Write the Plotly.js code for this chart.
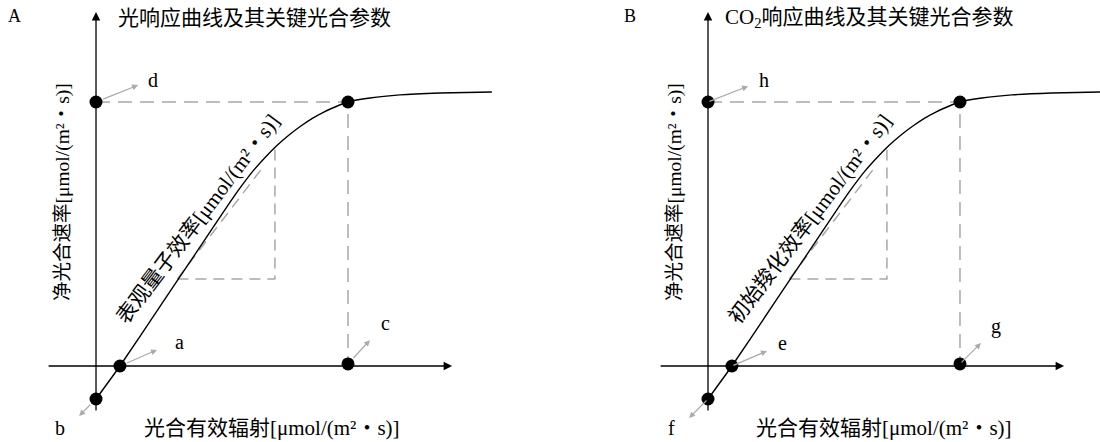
<!DOCTYPE html>
<html><head><meta charset="utf-8">
<script src="https://cdn.plot.ly/plotly-3.0.1.min.js"></script>
<style>html,body{margin:0;padding:0;background:#fff}#chart{width:1100px;height:442px}</style>
</head><body><div id="chart"></div>
<script>
// ---------- text ----------
const panelLetters = ['A', 'B'];
const panelTitles = ['光响应曲线及其关键光合参数', 'CO<sub>2</sub>响应曲线及其关键光合参数'];
const slopeLabels = ['表观量子效率[μmol/(m²・s)]', '初始羧化效率[μmol/(m²・s)]'];
const xAxisTitle = '光合有效辐射[μmol/(m²・s)]';
const yAxisTitle = '净光合速率[μmol/(m²・s)]';

// ---------- schematic response curve (relative units, saturation point = (100,100)) ----------
const curveX = [0, 9.5, 26.2, 39.3, 53.2, 57.9, 62.5, 67.2, 71.9, 76.6, 81.3, 86.0, 90.6, 95.3, 100,
                108.7, 120.6, 136.5, 157.1];
const curveY = [-12.5, 0, 23.7, 42.3, 62.1, 68.4, 74.1, 79.1, 83.6, 87.5, 90.9, 93.9, 96.3, 98.3, 100,
                101.5, 102.7, 103.4, 103.8];

// key points: [max rate on y-axis, x-intercept, y-intercept, saturation on x-axis, saturation point]
const keyX = [0, 9.5, 0, 100, 100];
const keyY = [100, 0, -12.5, 0.8, 100];

// dashed guides: saturation projection lines
const guideX = [0, 100, 100];
const guideY = [100, 100, 0.8];
// slope triangle
const triX = [32.3, 71, 71];
const triY = [33, 33, 82.5];
const hypX = [32.3, 66.3];
const hypY = [33, 75.4];

// labelled pointer arrows (tail = key point, head, label)
const pointerLabels = [['d', 'a', 'b', 'c'], ['h', 'e', 'f', 'g']];
const pointerHeadX = [[16.7, 24.2, -6.7, 108.7], [15.9, 23.4, -7.5, 108.3]];
const pointerHeadY = [[106.4, 6.1, -18.9, 9.8], [106.0, 5.7, -19.7, 8.7]];
const labelX = [[22.6, 33.3, -14.3, 114.7], [22.2, 29.4, -14.3, 114.3]];
const labelY = [[108.3, 9.1, -23.5, 16.3], [108.3, 8.7, -23.5, 14.8]];

// axis arrows
const xAxisSpan = [-19.4, 141.3];
const yAxisSpan = [-17.4, 134.1];
const slopeLabelPos = [40.5, 55.8];

// ---------- build ----------
const FONT = 'Liberation Serif, "Noto Sans CJK SC", serif';
const traces = [];
const annotations = [];
const axIds = [['x', 'y'], ['x2', 'y2']];

for (let p = 0; p < 2; p++) {
  const [xa, ya] = axIds[p];
  traces.push({x: guideX, y: guideY, xaxis: xa, yaxis: ya, mode: 'lines',
    line: {color: '#a8a8a8', width: 1.5, dash: '14px,8px'}, hoverinfo: 'skip'});
  traces.push({x: triX, y: triY, xaxis: xa, yaxis: ya, mode: 'lines',
    line: {color: '#a8a8a8', width: 1.5, dash: '11px,7px'}, hoverinfo: 'skip'});
  traces.push({x: hypX, y: hypY, xaxis: xa, yaxis: ya, mode: 'lines',
    line: {color: '#a8a8a8', width: 1.5, dash: '11px,7px'}, hoverinfo: 'skip'});
  traces.push({x: curveX, y: curveY, xaxis: xa, yaxis: ya, mode: 'lines',
    line: {color: '#000', width: 1.4, shape: 'spline', smoothing: 0.5}, hoverinfo: 'skip'});
  traces.push({x: keyX, y: keyY, xaxis: xa, yaxis: ya, mode: 'markers',
    marker: {color: '#000', size: 13}, hoverinfo: 'skip', cliponaxis: false});

  // axes with arrowheads
  annotations.push({xref: xa, yref: ya, axref: xa, ayref: ya,
    x: xAxisSpan[1], y: 0, ax: xAxisSpan[0], ay: 0, text: '', showarrow: true,
    arrowhead: 2, arrowsize: 1.3, arrowwidth: 1.3, arrowcolor: '#000'});
  annotations.push({xref: xa, yref: ya, axref: xa, ayref: ya,
    x: 0, y: yAxisSpan[1], ax: 0, ay: yAxisSpan[0], text: '', showarrow: true,
    arrowhead: 2, arrowsize: 1.3, arrowwidth: 1.3, arrowcolor: '#000'});

  // pointer arrows and letters
  for (let i = 0; i < 4; i++) {
    annotations.push({xref: xa, yref: ya, axref: xa, ayref: ya,
      x: pointerHeadX[p][i], y: pointerHeadY[p][i], ax: keyX[i], ay: keyY[i],
      text: '', showarrow: true, arrowhead: 2, arrowsize: 1, arrowwidth: 1.2,
      arrowcolor: '#aaaaaa', startstandoff: p === 0 ? 6 : 0});
    annotations.push({xref: xa, yref: ya, x: labelX[p][i], y: labelY[p][i],
      xanchor: 'center', yanchor: 'middle',
      text: pointerLabels[p][i], showarrow: false,
      font: {family: FONT, size: 20, color: '#000'}});
  }

  // slope label along the curve
  annotations.push({xref: xa, yref: ya, x: slopeLabelPos[0], y: slopeLabelPos[1],
    xanchor: 'center', yanchor: 'middle',
    text: slopeLabels[p], showarrow: false, textangle: -53,
    font: {family: FONT, size: 21, color: '#000'}});
}

// panel letters, titles, axis titles (paper coordinates)
const letterPx = [[14, 16], [630, 16]];
const titlePx = [[254, 18], [869, 18]];
const xTitlePx = [[272, 428], [884, 428]];
const yTitlePx = [[63, 192], [675, 192]];
const W = 1100, H = 442;
for (let p = 0; p < 2; p++) {
  const base = {xref: 'paper', yref: 'paper', xanchor: 'center', yanchor: 'middle', showarrow: false};
  annotations.push(Object.assign({x: letterPx[p][0] / W, y: 1 - letterPx[p][1] / H,
    text: panelLetters[p], font: {family: FONT, size: 18, color: '#000'}}, base));
  annotations.push(Object.assign({x: titlePx[p][0] / W, y: 1 - titlePx[p][1] / H,
    text: panelTitles[p], font: {family: FONT, size: 21, color: '#000'}}, base));
  annotations.push(Object.assign({x: xTitlePx[p][0] / W, y: 1 - xTitlePx[p][1] / H,
    text: xAxisTitle, font: {family: FONT, size: 21, color: '#000'}}, base));
  annotations.push(Object.assign({x: yTitlePx[p][0] / W, y: 1 - yTitlePx[p][1] / H,
    text: yAxisTitle, textangle: -90, font: {family: FONT, size: 19.5, color: '#000'}}, base));
}

const hidden = {visible: false, fixedrange: true};
const layout = {
  width: W, height: H,
  margin: {l: 0, r: 0, t: 0, b: 0},
  paper_bgcolor: '#fff', plot_bgcolor: 'rgba(0,0,0,0)',
  showlegend: false,
  xaxis: Object.assign({domain: [0, 0.5], range: [-38.1, 180.16]}, hidden),
  yaxis: Object.assign({domain: [0, 1], range: [-28.79, 138.64]}, hidden),
  xaxis2: Object.assign({domain: [0.5, 1], range: [-62.70, 155.56], anchor: 'y2'}, hidden),
  yaxis2: Object.assign({domain: [0, 1], range: [-28.79, 138.64], anchor: 'x2'}, hidden),
  annotations: annotations
};
Plotly.newPlot('chart', traces, layout, {staticPlot: true, displayModeBar: false});
</script>
</body></html>
